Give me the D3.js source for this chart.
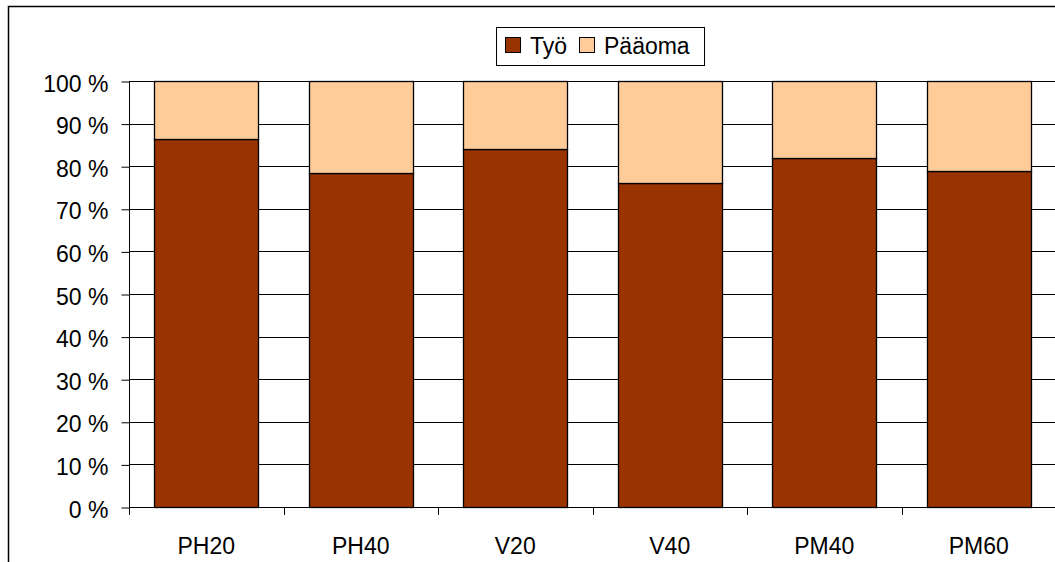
<!DOCTYPE html>
<html><head><meta charset="utf-8">
<script src="https://cdn.jsdelivr.net/npm/d3@7"></script>
<style>body{margin:0;background:#fff;} svg{display:block;}</style>
</head><body>
<svg id="c" width="1055" height="562"></svg>
<script>
const categories = ["PH20","PH40","V20","V40","PM40","PM60"];
const tyo = [86.4, 78.5, 84.0, 76.0, 81.9, 78.9];
const paaoma = tyo.map(v => 100 - v);
const seriesNames = ["Työ","Pääoma"];
const colors = ["#993300","#FFCC99"];
const yTicks = [0,10,20,30,40,50,60,70,80,90,100];

const svg = d3.select("#c");
const font = "'Liberation Sans', Arial, sans-serif";
const fs = 23;

svg.append("rect").attr("x",8.5).attr("y",6.5).attr("width",1100).attr("height",600)
  .attr("fill","#fff").attr("stroke","#000").attr("stroke-width",1.5);

const x = d3.scaleBand().domain(categories).range([129, 1056]).paddingInner(0.33).paddingOuter(0.165);
const y = d3.scaleLinear().domain([0,100]).range([507, 81]);

// gridlines
svg.append("g").selectAll("line").data(yTicks.filter(t=>t>0)).join("line")
  .attr("x1",129).attr("x2",1056)
  .attr("y1",d=>Math.round(y(d))+0.5).attr("y2",d=>Math.round(y(d))+0.5)
  .attr("stroke","#000").attr("stroke-width",1);

const stackData = categories.map((c,i)=>({cat:c, "Työ":tyo[i], "Pääoma":paaoma[i]}));
const stack = d3.stack().keys(seriesNames)(stackData);

svg.append("g").selectAll("g").data(stack).join("g")
  .attr("fill",(d,i)=>colors[i])
  .selectAll("rect").data(d=>d).join("rect")
  .attr("x",d=>Math.round(x(d.data.cat))+0.5)
  .attr("width",Math.round(x.bandwidth()))
  .attr("y",d=>Math.round(y(d[1]))+0.5)
  .attr("height",d=>Math.round(y(d[0]))-Math.round(y(d[1])))
  .attr("stroke","#000").attr("stroke-width",1.3);

// y axis
const yAxis = d3.axisLeft(y).tickValues(yTicks).tickSize(8).tickFormat(d=>d+" %");
const ga = svg.append("g").attr("transform","translate(129.5,0.5)").call(yAxis);
ga.select(".domain").attr("stroke","#000").attr("d","M0,"+(y(100)-0.5)+"V"+(y(0)-0.5));
ga.selectAll(".tick line").attr("stroke","#000");
ga.selectAll(".tick text").attr("font-family",font).attr("font-size",fs).attr("fill","#000")
  .attr("x",-21).attr("dy","0.42em");

// x axis
const boundaries = categories.map((c,i)=>129 + i*x.step()).concat([129+6*x.step()]);
svg.append("line").attr("x1",129).attr("x2",1056).attr("y1",507.5).attr("y2",507.5).attr("stroke","#000");
svg.append("g").selectAll("line").data(boundaries).join("line")
  .attr("x1",d=>Math.round(d)+0.5).attr("x2",d=>Math.round(d)+0.5)
  .attr("y1",507).attr("y2",515).attr("stroke","#000");
svg.append("g").selectAll("text").data(categories).join("text")
  .attr("x",d=>x(d)+x.bandwidth()/2).attr("y",554)
  .attr("text-anchor","middle").attr("font-family",font).attr("font-size",fs).attr("fill","#000")
  .text(d=>d);

// legend
const lg = svg.append("g");
lg.append("rect").attr("x",496.5).attr("y",27.5).attr("width",208).attr("height",38)
  .attr("fill","#fff").attr("stroke","#000").attr("stroke-width",1);
const items = [{sx:505, tx:530},{sx:579, tx:604}];
items.forEach((it,i)=>{
  lg.append("rect").attr("x",it.sx+0.5).attr("y",37.5).attr("width",15).attr("height",15)
    .attr("fill",colors[i]).attr("stroke","#000");
  lg.append("text").attr("x",it.tx).attr("y",53.5).attr("font-family",font).attr("font-size",fs)
    .attr("fill","#000").text(seriesNames[i]);
});
</script>
</body></html>
